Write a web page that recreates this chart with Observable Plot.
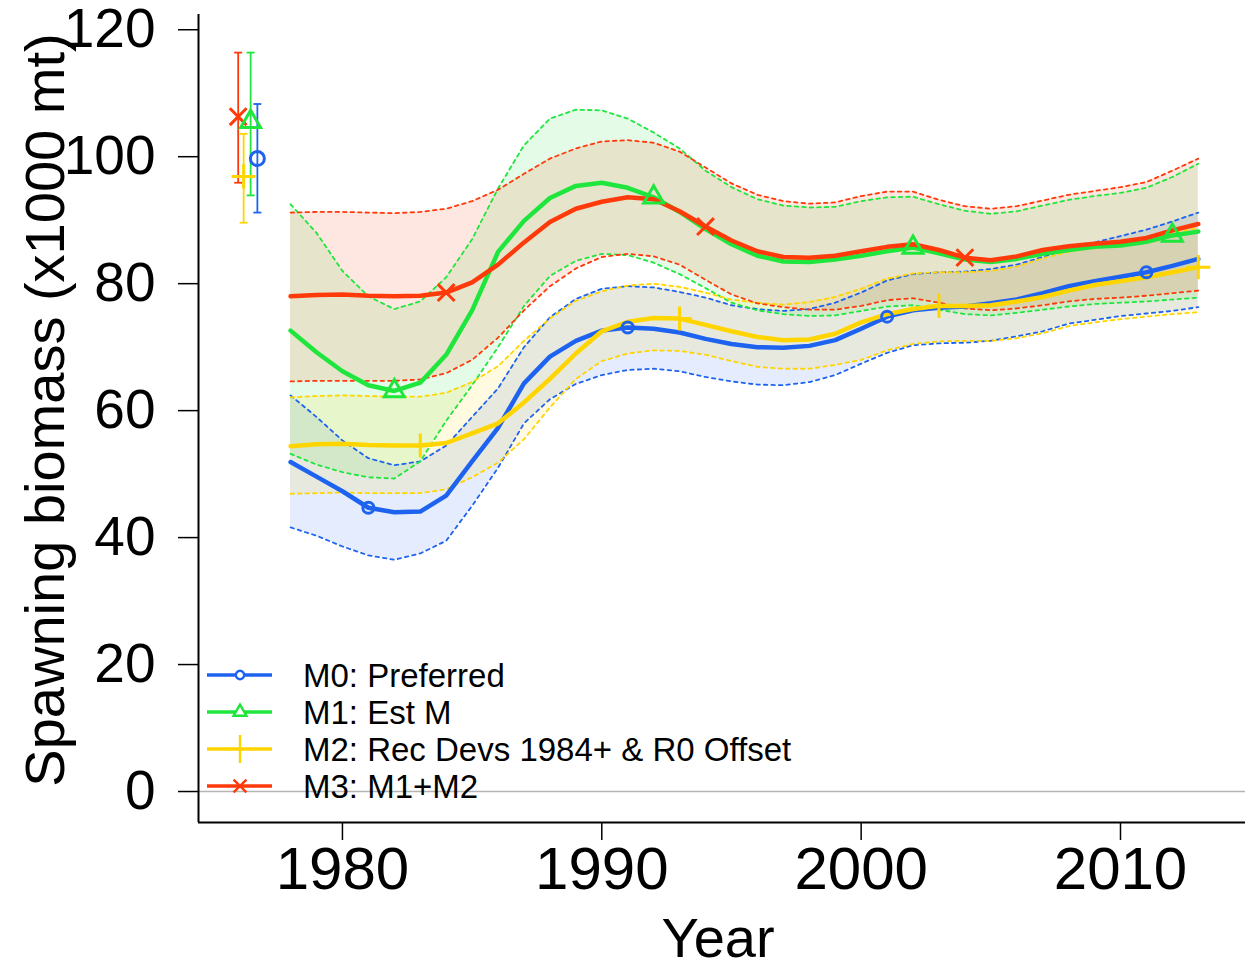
<!DOCTYPE html>
<html>
<head>
<meta charset="utf-8">
<script src="https://cdn.jsdelivr.net/npm/d3@7"></script>
<script src="https://cdn.jsdelivr.net/npm/@observablehq/plot@0.6"></script>
<style>
  html, body { margin: 0; padding: 0; background: #ffffff; }
  #chart svg { display: block; }
</style>
</head>
<body>
<div id="chart"></div>
<script>
// ---- data (x1000 mt) ----
const years = [1978,1979,1980,1981,1982,1983,1984,1985,1986,1987,1988,1989,1990,1991,1992,1993,1994,1995,1996,1997,1998,1999,2000,2001,2002,2003,2004,2005,2006,2007,2008,2009,2010,2011,2012,2013];

const m0    = [51.9,49.6,47.3,44.7,44.0,44.1,46.6,52.0,57.3,64.3,68.5,71.0,72.6,73.1,72.9,72.3,71.3,70.5,70.0,69.9,70.2,71.1,72.9,74.8,75.8,76.2,76.4,76.9,77.5,78.5,79.6,80.4,81.1,81.8,82.8,83.9];
const m0Lo  = [41.6,40.3,38.6,37.2,36.5,37.5,39.5,45.0,51.0,58.0,61.8,64.2,65.6,66.4,66.6,66.2,65.3,64.6,64.1,64.0,64.5,65.6,67.4,69.1,70.3,70.6,70.7,71.0,71.7,72.5,73.7,74.3,74.9,75.3,75.7,76.3];
const m0Hi  = [62.4,59.0,55.3,52.5,51.4,52.0,54.5,59.0,63.5,70.0,74.7,77.6,79.2,79.6,79.4,78.7,77.8,76.6,76.0,75.7,76.0,77.0,78.6,80.5,81.5,81.8,81.9,82.3,83.0,84.2,85.5,86.5,87.5,88.5,89.8,91.2];

const m1    = [72.6,69.2,66.2,64.0,63.1,64.4,68.8,75.8,85.0,89.9,93.5,95.4,95.9,95.1,93.6,91.3,88.6,86.2,84.4,83.5,83.4,83.8,84.4,85.1,85.7,84.8,83.8,83.4,83.9,84.7,85.3,85.8,86.0,86.6,87.6,88.2];
const m1Lo  = [53.2,51.5,50.3,49.5,49.3,52.0,58.4,64.0,70.0,76.5,81.2,83.6,84.7,84.5,83.3,81.5,79.3,77.0,75.8,75.2,74.9,75.0,75.7,76.4,76.6,75.9,75.2,75.0,75.4,75.9,76.4,76.8,77.0,77.2,77.5,77.8];
const m1Hi  = [92.5,88.0,82.0,78.0,76.0,77.2,81.0,87.0,95.0,101.8,106.0,107.4,107.3,106.0,103.8,101.3,97.8,95.2,93.3,92.3,92.0,92.1,93.0,93.6,93.7,92.5,91.5,91.0,91.4,92.3,93.2,93.8,94.3,95.1,96.8,98.9];

const m2    = [54.4,54.7,54.8,54.6,54.5,54.5,54.9,56.4,58.0,61.3,65.0,69.0,72.5,74.0,74.6,74.5,73.5,72.5,71.6,71.1,71.2,72.1,73.9,75.2,76.0,76.5,76.5,76.6,77.2,77.9,78.9,79.8,80.4,81.0,81.8,82.6];
const m2Lo  = [46.9,47.0,47.1,47.0,47.0,47.0,47.6,49.5,51.8,55.5,60.5,65.0,67.8,69.0,69.5,69.4,68.8,67.8,66.9,66.6,66.6,67.2,68.0,69.5,70.5,70.9,71.0,71.0,71.4,72.2,73.3,73.9,74.4,74.8,75.2,75.5];
const m2Hi  = [62.1,62.3,62.4,62.3,62.2,62.2,62.8,64.5,67.0,71.0,74.5,77.3,78.8,79.7,80.0,79.5,78.6,77.5,77.0,76.7,77.1,77.9,79.2,80.8,81.6,81.8,81.8,82.0,82.7,84.0,85.0,85.8,86.5,87.2,88.0,88.8];

const m3    = [78.0,78.2,78.3,78.1,78.0,78.1,78.6,80.2,83.0,86.5,89.7,91.8,92.9,93.6,93.3,91.4,89.0,86.8,85.1,84.2,84.1,84.4,85.1,85.8,86.2,85.3,84.1,83.7,84.3,85.3,85.9,86.3,86.6,87.2,88.4,89.4];
const m3Lo  = [64.6,64.7,64.7,64.7,64.7,64.9,65.9,68.0,71.5,75.8,79.6,82.4,84.2,84.7,84.3,83.0,80.6,78.3,76.9,76.3,75.9,75.9,76.5,77.4,77.7,77.0,76.1,75.8,76.1,76.6,77.2,77.6,77.8,78.1,78.5,78.9];
const m3Hi  = [91.2,91.3,91.3,91.2,91.1,91.3,91.8,93.0,94.8,97.3,99.7,101.3,102.4,102.6,102.2,100.8,98.3,95.8,94.0,93.0,92.6,92.8,93.8,94.5,94.5,93.2,92.2,91.8,92.2,93.1,94.0,94.6,95.2,96.0,97.8,99.7];

// years carrying a point symbol on each line
const m0Marks = [1981,1991,2001,2011];
const m1Marks = [1982,1992,2002,2012];
const m2Marks = [1983,1993,2003,2013];
const m3Marks = [1984,1994,2004];

// unfished (virgin) spawning biomass with intervals
const virginModel = ["M3","M2","M1","M0"];
const virginX     = [1975.98,1976.19,1976.46,1976.72];
const virginEst   = [106.3,96.9,105.5,99.7];
const virginLo    = [95.9,89.6,93.9,91.2];
const virginHi    = [116.4,103.6,116.4,108.3];

const modelNames = ["M0: Preferred","M1: Est M","M2: Rec Devs 1984+ & R0 Offset","M3: M1+M2"];
const modelKeys  = ["M0","M1","M2","M3"];
const modelColors = ["#1E63F0","#1EE63C","#FFD500","#FF3A0A"];
const modelSymbols = ["circle","triangle2","plus","times"];
const modelSymbolR = [5.5,9.5,7.8,7.7];

const xTicks = [1980,1990,2000,2010];
const yTicks = [0,20,40,60,80,100,120];
const xDomain = [1974.45, 2014.82];
const yDomain = [-4.88, 122.4];

// ---- build tables ----
const series = [[m0,m0Lo,m0Hi,m0Marks],[m1,m1Lo,m1Hi,m1Marks],[m2,m2Lo,m2Hi,m2Marks],[m3,m3Lo,m3Hi,m3Marks]];
const models = series.map((s, i) => ({
  key: modelKeys[i], name: modelNames[i], color: modelColors[i],
  symbol: modelSymbols[i], r: modelSymbolR[i],
  rows: years.map((yr, j) => ({year: yr, est: s[0][j], lo: s[1][j], hi: s[2][j]})),
  marks: s[3]
}));
const virgin = virginModel.map((k, i) => ({
  key: k, x: virginX[i], est: virginEst[i], lo: virginLo[i], hi: virginHi[i],
  color: modelColors[modelKeys.indexOf(k)], symbol: modelSymbols[modelKeys.indexOf(k)],
  r: modelSymbolR[modelKeys.indexOf(k)]
}));

const capSymbol = { draw(ctx, size) { const w = Math.sqrt(size); ctx.moveTo(-w / 2, 0); ctx.lineTo(w / 2, 0); } };

const marks = [];
// shaded intervals
for (const m of models) {
  marks.push(Plot.areaY(m.rows, {x: "year", y1: "lo", y2: "hi", fill: m.color, fillOpacity: 0.12}));
}
marks.push(Plot.ruleY([0], {stroke: "#B4B4B4", strokeWidth: 1.5}));
// dotted interval bounds
for (const m of models) {
  marks.push(Plot.lineY(m.rows, {x: "year", y: "lo", stroke: m.color, strokeWidth: 1.8, strokeDasharray: "3.5,4"}));
  marks.push(Plot.lineY(m.rows, {x: "year", y: "hi", stroke: m.color, strokeWidth: 1.8, strokeDasharray: "3.5,4"}));
}
// estimates
for (const m of models) {
  marks.push(Plot.lineY(m.rows, {x: "year", y: "est", stroke: m.color, strokeWidth: 4.5}));
}
for (const m of models) {
  marks.push(Plot.dot(m.rows.filter(d => m.marks.includes(d.year)), {
    x: "year", y: "est", symbol: m.symbol, r: m.r, stroke: m.color, fill: "none", strokeWidth: 3
  }));
}
// virgin estimates with intervals
marks.push(Plot.ruleX(virgin, {x: "x", y1: "lo", y2: "hi", stroke: "color", strokeWidth: 1.8}));
marks.push(Plot.dot(virgin, {x: "x", y: "lo", symbol: capSymbol, r: 4.5, stroke: "color", strokeWidth: 1.8}));
marks.push(Plot.dot(virgin, {x: "x", y: "hi", symbol: capSymbol, r: 4.5, stroke: "color", strokeWidth: 1.8}));
for (const v of virgin) {
  marks.push(Plot.dot([v], {x: "x", y: "est", symbol: v.symbol, r: v.symbol === "circle" ? 7 : v.r, stroke: v.color, fill: "none", strokeWidth: 3}));
}
// axes
marks.push(Plot.ruleX([xDomain[0]], {stroke: "#000", strokeWidth: 2}));
marks.push(Plot.ruleY([yDomain[0]], {stroke: "#000", strokeWidth: 2}));
marks.push(Plot.axisX({ticks: xTicks, tickFormat: d => String(d), tickSize: 18, tickPadding: 6, fontSize: 60, strokeWidth: 1.5, label: null, fill: "#000", stroke: "#000"}));
marks.push(Plot.axisY({ticks: yTicks, tickSize: 20, tickPadding: 23, fontSize: 55, strokeWidth: 1.5, label: null, fill: "#000", stroke: "#000"}));

const plot = Plot.plot({
  width: 1245, height: 968,
  marginLeft: 198, marginRight: 0, marginTop: 14, marginBottom: 146,
  style: {fontFamily: "'Liberation Sans', Arial, sans-serif", background: "#fff", color: "#000", overflow: "visible"},
  x: {domain: xDomain},
  y: {domain: yDomain},
  marks
});
document.getElementById("chart").appendChild(plot);

// ---- titles and legend ----
const svg = d3.select(plot);
const font = "'Liberation Sans', Arial, sans-serif";
svg.append("text").attr("x", 718).attr("y", 957).attr("text-anchor", "middle")
  .attr("font-family", font).attr("font-size", 56).attr("fill", "#000").text("Year");
svg.append("text").attr("transform", "translate(64,410) rotate(-90)").attr("text-anchor", "middle")
  .attr("font-family", font).attr("font-size", 56).attr("fill", "#000").text("Spawning biomass (x1000 mt)");

const legendSymbolSize = [55, 120, 260, 110];
const lg = svg.append("g").attr("text-anchor", "start");
models.forEach((m, i) => {
  const cy = 675 + i * 37;
  lg.append("line").attr("x1", 207).attr("x2", 272).attr("y1", cy).attr("y2", cy)
    .attr("stroke", m.color).attr("stroke-width", 3.4);
  const sym = {circle: d3.symbolCircle, triangle2: d3.symbolTriangle2, plus: d3.symbolPlus, times: d3.symbolTimes}[m.symbol];
  lg.append("path").attr("transform", `translate(240,${cy})`)
    .attr("d", d3.symbol(sym, legendSymbolSize[i])())
    .attr("fill", i < 2 ? "#fff" : "none").attr("stroke", m.color).attr("stroke-width", 2.4);
  lg.append("text").attr("x", 303).attr("y", cy + 12).attr("text-anchor", "start")
    .attr("font-family", font).attr("font-size", 33).attr("fill", "#000").text(m.name);
});
</script>
</body>
</html>
